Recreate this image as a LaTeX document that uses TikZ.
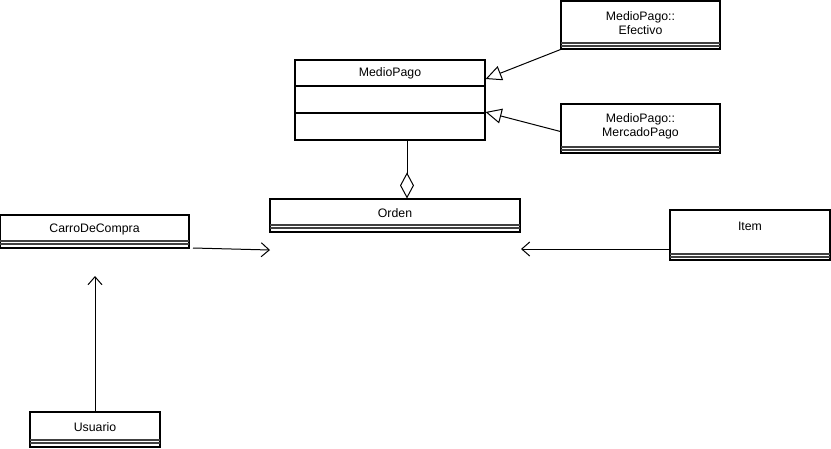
\documentclass[tikz,border=0pt]{standalone}
\usepackage{fontspec}
\setmainfont{Liberation Sans}
\usetikzlibrary{arrows.meta}
\begin{document}
\begin{tikzpicture}[x=1pt,y=-1pt,
  cls/.style={draw=black,line width=1.1pt,fill=white,rectangle,inner sep=0pt},
  lbl/.style={font=\fontsize{12.3}{14}\selectfont,align=center,inner sep=0pt},
  sep/.style={line width=1.1pt,draw=black!75},
  div/.style={line width=1.1pt},
  gen/.style={line width=1pt,-{Triangle[open,length=16pt,width=15pt]}},
  dep/.style={line width=1pt,-{Straight Barb[length=8pt,width=14pt]}},
  agg/.style={line width=1pt,-{Diamond[open,length=26pt,width=14pt]}}]
\useasboundingbox (0,0) rectangle (831,448);
% MedioPago
\node[cls,minimum width=190pt,minimum height=80pt] (mp) at (390,100) {};
\node[lbl] (mpt) at (390,73) {MedioPago};
\draw[div] (295,86) -- (485,86);
\draw[div] (295,113) -- (485,113);
% Efectivo
\node[cls,minimum width=159pt,minimum height=48pt] (ef) at (640.5,25) {};
\node[lbl] (eft) at (640.5,23) {MedioPago::\\Efectivo};
\draw[sep] (561,43) -- (720,43);
\draw[sep] (561,46) -- (720,46);
% MercadoPago
\node[cls,minimum width=159pt,minimum height=49pt] (mep) at (640.5,128.5) {};
\node[lbl] (mept) at (640.5,126) {MedioPago::\\MercadoPago};
\draw[sep] (561,147) -- (720,147);
\draw[sep] (561,150) -- (720,150);
% Orden
\node[cls,minimum width=250pt,minimum height=33pt] (or) at (395,215.5) {};
\node[lbl] (ort) at (395,213) {Orden};
\draw[sep] (270,225) -- (520,225);
\draw[sep] (270,228) -- (520,228);
% CarroDeCompra
\node[cls,minimum width=189pt,minimum height=33pt] (cc) at (94.5,231.5) {};
\node[lbl] (cct) at (94.5,229.5) {CarroDeCompra};
\draw[sep] (0,241) -- (189,241);
\draw[sep] (0,244) -- (189,244);
% Item
\node[cls,minimum width=160pt,minimum height=50pt] (it) at (750,235) {};
\node[lbl] (itt) at (750,226) {Item};
\draw[sep] (670,254) -- (830,254);
\draw[sep] (670,257) -- (830,257);
% Usuario
\node[cls,minimum width=130pt,minimum height=35pt] (us) at (95,429.5) {};
\node[lbl] (ust) at (95,427.5) {Usuario};
\draw[sep] (30,440) -- (160,440);
\draw[sep] (30,443) -- (160,443);
% connectors
\coordinate (ccEnd) at (270,250);
\coordinate (itEnd) at (521,249);
\coordinate (usEnd) at (95,276);
\draw[gen] (ef.south west) -- ([yshift=21pt]mp.east);
\draw[gen] ([yshift=-3pt]mep.west) -- ([yshift=-12pt]mp.east);
\draw[agg] (mp.south -| 407,0) -- (or.north -| 407,0);
\draw[dep] (193,248) -- (ccEnd);
\draw[dep] ([yshift=-14pt]it.west) -- (itEnd);
\draw[dep] (us.north) -- (usEnd);
\end{tikzpicture}
\end{document}
